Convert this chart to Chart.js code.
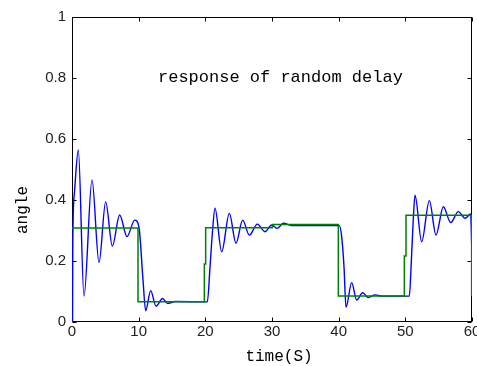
<!DOCTYPE html>
<html>
<head>
<meta charset="utf-8">
<script src="https://cdn.jsdelivr.net/npm/chart.js@4/dist/chart.umd.min.js"></script>
<style>
  html, body { margin: 0; padding: 0; background: #fff; }
  canvas { display: block; }
</style>
</head>
<body>
<canvas id="plot" width="477" height="366"></canvas>
<script>
// Step reference (green) — piecewise constant, vertical edges given as repeated x.
const refTime  = [0, 9.9, 9.9, 19.85, 19.85, 20.05, 20.05, 30.05, 30.05, 39.95, 39.95, 49.85, 49.85, 50.1, 50.1, 59.95, 59.95];
const refAngle = [0.308, 0.308, 0.066, 0.066, 0.19, 0.19, 0.309, 0.309, 0.32, 0.32, 0.085, 0.085, 0.216, 0.216, 0.35, 0.35, 0.085];

// System response (blue) — peaks and troughs.
const respTime  = [0.08, 0.12, 0.35, 0.95, 1.8, 3.0, 4.05, 5.05, 6.05, 7.15, 8.25, 9.4, 10.05, 10.65, 11.05, 11.8, 12.6, 13.6, 14.3, 15.5,
                   20.3, 20.7, 21.05, 21.45, 22.45, 23.6, 24.6, 25.6, 26.6, 27.8, 28.95, 29.95, 30.8, 31.7, 33, 40.1,
                   40.45, 40.8, 41.1, 41.95, 42.7, 43.6, 44.45, 45.45, 46.5, 50.6, 50.9, 51.2, 51.45, 52.45, 53.6, 54.6,
                   55.7, 56.8, 57.95, 58.95, 59.8, 60];
const respAngle = [0, 0.26, 0.42, 0.564, 0.085, 0.466, 0.195, 0.394, 0.249, 0.351, 0.28, 0.334, 0.31, 0.138, 0.037, 0.103, 0.052, 0.077, 0.061, 0.067,
                   0.066, 0.18, 0.29, 0.373, 0.23, 0.356, 0.258, 0.334, 0.285, 0.321, 0.296, 0.318, 0.307, 0.324, 0.316, 0.316,
                   0.28, 0.181, 0.048, 0.129, 0.072, 0.096, 0.08, 0.089, 0.085, 0.085, 0.2, 0.34, 0.416, 0.263, 0.398, 0.285,
                   0.378, 0.326, 0.362, 0.34, 0.354, 0.21];

const xTickStep = 10;
const yTickStep = 0.2;

const annotation = 'response of random delay';
const xTitle = 'time(S)';
const yTitle = 'angle';

const pairs = (xs, ys) => xs.map((x, i) => ({ x, y: ys[i] }));

// MATLAB-ish box: frame plus inward ticks on all four sides, and the free text.
const matlabAxes = {
    id: 'matlabAxes',
    beforeDatasetsDraw(chart) {
        const { ctx, chartArea: a, scales: { x, y } } = chart;
        const L = Math.round(a.left) + 0.5, R = Math.round(a.right) - 0.5;
        const T = Math.round(a.top) + 0.5, B = Math.round(a.bottom) - 0.5;
        ctx.save();
        ctx.strokeStyle = '#000';
        ctx.lineWidth = 1;
        ctx.strokeRect(L, T, R - L, B - T);
        ctx.beginPath();
        x.ticks.forEach((t) => {
            const px = Math.round(x.getPixelForValue(t.value)) + 0.5;
            ctx.moveTo(px, B); ctx.lineTo(px, B - 4);
            ctx.moveTo(px, T); ctx.lineTo(px, T + 4);
        });
        y.ticks.forEach((t) => {
            const py = Math.round(y.getPixelForValue(t.value)) + 0.5;
            ctx.moveTo(L, py); ctx.lineTo(L + 4, py);
            ctx.moveTo(R, py); ctx.lineTo(R - 4, py);
        });
        ctx.stroke();
        ctx.restore();
    },
    afterDraw(chart) {
        const { ctx, scales: { x, y } } = chart;
        ctx.save();
        ctx.fillStyle = '#000';
        ctx.textBaseline = 'middle';
        ctx.font = '17px "Liberation Mono", monospace';
        ctx.textAlign = 'left';
        ctx.fillText(annotation, x.getPixelForValue(12.9), y.getPixelForValue(0.803));
        ctx.font = '16px "Liberation Mono", monospace';
        ctx.textAlign = 'center';
        ctx.fillText(xTitle, 279, 357);
        ctx.translate(23, 210);
        ctx.rotate(-Math.PI / 2);
        ctx.fillText(yTitle, 0, 0);
        ctx.restore();
    },
};

const tickFont = { family: '"Liberation Sans", Arial, sans-serif', size: 15 };

new Chart(document.getElementById('plot'), {
    type: 'line',
    data: {
        datasets: [
            {
                label: 'reference',
                data: pairs(refTime, refAngle),
                borderColor: '#008000',
                borderWidth: 1.5,
                pointRadius: 0,
                tension: 0,
                order: 0,
            },
            {
                label: 'response',
                data: pairs(respTime, respAngle),
                borderColor: '#0000ff',
                borderWidth: 1.4,
                pointRadius: 0,
                cubicInterpolationMode: 'monotone',
                order: 1,
            },
        ],
    },
    options: {
        responsive: false,
        animation: false,
        devicePixelRatio: 1,
        layout: { padding: { top: 17, right: 5, left: 0, bottom: 0 } },
        plugins: { legend: { display: false }, tooltip: { enabled: false } },
        scales: {
            x: {
                type: 'linear',
                min: 0,
                max: 60,
                grid: { display: false, drawTicks: false },
                border: { display: false },
                ticks: { stepSize: xTickStep, padding: 1, color: '#222', font: tickFont, maxRotation: 0 },
                afterFit(s) { s.height = 44; s.paddingLeft = 0; s.paddingRight = 0; },
            },
            y: {
                min: 0,
                max: 1,
                grid: { display: false, drawTicks: false },
                border: { display: false },
                ticks: {
                    stepSize: yTickStep, padding: 6, color: '#222', font: tickFont,
                    callback: (v) => String(Number(v.toFixed(1))),
                },
                afterFit(s) { s.width = 72; s.paddingTop = 0; s.paddingBottom = 0; },
            },
        },
    },
    plugins: [matlabAxes],
});
</script>
</body>
</html>
